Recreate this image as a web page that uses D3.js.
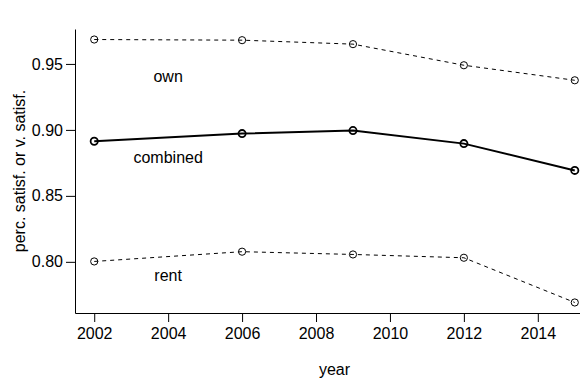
<!DOCTYPE html>
<html>
<head>
<meta charset="utf-8">
<script src="https://cdn.jsdelivr.net/npm/d3@7"></script>
<style>
  body { margin: 0; background: #fff; }
  svg { display: block; font-family: "Liberation Sans", Arial, Helvetica, sans-serif; }
</style>
</head>
<body>
<div class="container"></div>
<script>
var years = [2002, 2006, 2009, 2012, 2015];
var own = [0.9685, 0.968, 0.965, 0.949, 0.9376];
var combined = [0.8914, 0.8972, 0.8995, 0.8896, 0.8693];
var rent = [0.8003, 0.8077, 0.8056, 0.8031, 0.7692];

var xTicks = [2002, 2004, 2006, 2008, 2010, 2012, 2014];
var yTicks = [0.80, 0.85, 0.90, 0.95];

var labelNames = ["own", "combined", "rent"];
var labelX = [2004, 2004, 2004];
var labelY = [0.9403, 0.8789, 0.7897];

var SVG_WIDTH = 580, SVG_HEIGHT = 386;

document.addEventListener('DOMContentLoaded', function () {
    var svg = d3.select(".container")
        .append("svg")
        .attr("width", SVG_WIDTH)
        .attr("height", SVG_HEIGHT);

    // R-style 4% padding around the data range
    var xPad = (d3.max(years) - d3.min(years)) * 0.04;
    var x = d3.scaleLinear()
        .domain([d3.min(years) - xPad, d3.max(years) + xPad])
        .range([75, 594]);

    var allY = own.concat(combined, rent);
    var yPad = (d3.max(allY) - d3.min(allY)) * 0.04;
    var y = d3.scaleLinear()
        .domain([d3.min(allY) - yPad, d3.max(allY) + yPad])
        .range([313, 29]);

    var xAxis = svg.append("g")
        .attr("transform", "translate(0," + y.range()[0] + ")")
        .call(d3.axisBottom(x)
            .tickValues(xTicks)
            .tickFormat(d3.format("d"))
            .tickSize(9)
            .tickSizeOuter(0)
            .tickPadding(6));

    var yAxis = svg.append("g")
        .attr("transform", "translate(" + x.range()[0] + ",0)")
        .call(d3.axisLeft(y)
            .tickValues(yTicks)
            .tickFormat(d3.format(".2f"))
            .tickSize(9)
            .tickSizeOuter(0)
            .tickPadding(3));

    svg.selectAll(".tick text")
        .attr("font-size", 16)
        .attr("font-family", "Liberation Sans, Arial, sans-serif")
        .attr("fill", "#000");
    svg.selectAll(".domain, .tick line")
        .attr("stroke", "#000")
        .attr("stroke-width", 1);

    var line = d3.line()
        .x(function (d, i) { return x(years[i]); })
        .y(function (d) { return y(d); });

    var series = [
        { values: own, width: 1, dash: "4,4" },
        { values: combined, width: 2, dash: null },
        { values: rent, width: 1, dash: "4,4" }
    ];

    series.forEach(function (s) {
        svg.append("path")
            .datum(s.values)
            .attr("fill", "none")
            .attr("stroke", "#000")
            .attr("stroke-width", s.width)
            .attr("stroke-dasharray", s.dash)
            .attr("d", line);

        svg.selectAll(null)
            .data(s.values)
            .enter().append("circle")
            .attr("cx", function (d, i) { return x(years[i]); })
            .attr("cy", function (d) { return y(d); })
            .attr("r", 3.6)
            .attr("fill", "none")
            .attr("stroke", "#000")
            .attr("stroke-width", s.width === 2 ? 1.8 : 1);
    });

    svg.selectAll(".series-label")
        .data(labelNames)
        .enter().append("text")
        .attr("class", "series-label")
        .attr("x", function (d, i) { return x(labelX[i]); })
        .attr("y", function (d, i) { return y(labelY[i]); })
        .attr("dy", "0.35em")
        .attr("text-anchor", "middle")
        .attr("font-size", 16)
        .text(function (d) { return d; });

    svg.append("text")
        .attr("x", (x.range()[0] + x.range()[1]) / 2)
        .attr("y", 375)
        .attr("text-anchor", "middle")
        .attr("font-size", 16)
        .text("year");

    svg.append("text")
        .attr("transform", "translate(24.5," + (y.range()[0] + y.range()[1]) / 2 + ") rotate(-90)")
        .attr("text-anchor", "middle")
        .attr("font-size", 16)
        .text("perc. satisf. or v. satisf.");
});
</script>
</body>
</html>
